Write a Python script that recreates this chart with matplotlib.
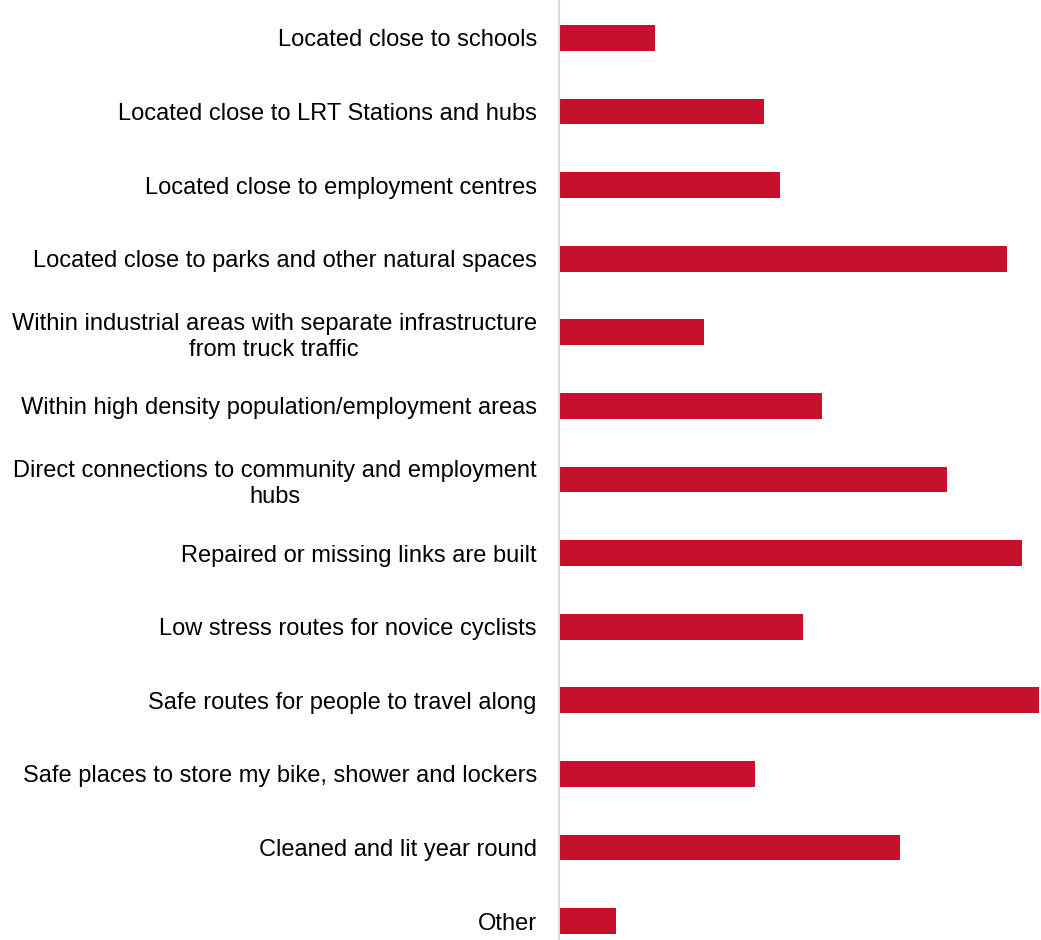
import matplotlib.pyplot as plt

plt.rcParams['font.family'] = ['Liberation Sans', 'DejaVu Sans']

# survey responses (% of respondents)
labels = [
    'Located close to schools',
    'Located close to LRT Stations and hubs',
    'Located close to employment centres',
    'Located close to parks and other natural spaces',
    'Within industrial areas with separate infrastructure\nfrom truck traffic',
    'Within high density population/employment areas',
    'Direct connections to community and employment\nhubs',
    'Repaired or missing links are built',
    'Low stress routes for novice cyclists',
    'Safe routes for people to travel along',
    'Safe places to store my bike, shower and lockers',
    'Cleaned and lit year round',
    'Other',
]
values = [12.0, 25.5, 27.5, 55.8, 18.0, 32.8, 48.3, 57.6, 30.4, 59.8, 24.4, 42.4, 7.1]

fig = plt.figure(figsize=(10.41, 9.4), dpi=100)
ax = fig.add_axes([559 / 1041, 0, 1 - 559 / 1041, 1])

pos = range(len(labels))
ax.barh(pos, values, height=0.35, color='#C8102E')

ax.set_xlim(0, 60.0)
ax.set_ylim(12.258, -0.516)
ax.set_yticks(list(pos))
ax.set_yticklabels(labels, fontsize=17, multialignment='center', linespacing=1.25)
ax.tick_params(axis='y', length=0, pad=16)
ax.set_xticks([])

for s in ['top', 'right', 'bottom']:
    ax.spines[s].set_visible(False)
ax.spines['left'].set_color('#d9d9d9')
ax.spines['left'].set_linewidth(1.5)

fig.savefig('out.png', dpi=100)
